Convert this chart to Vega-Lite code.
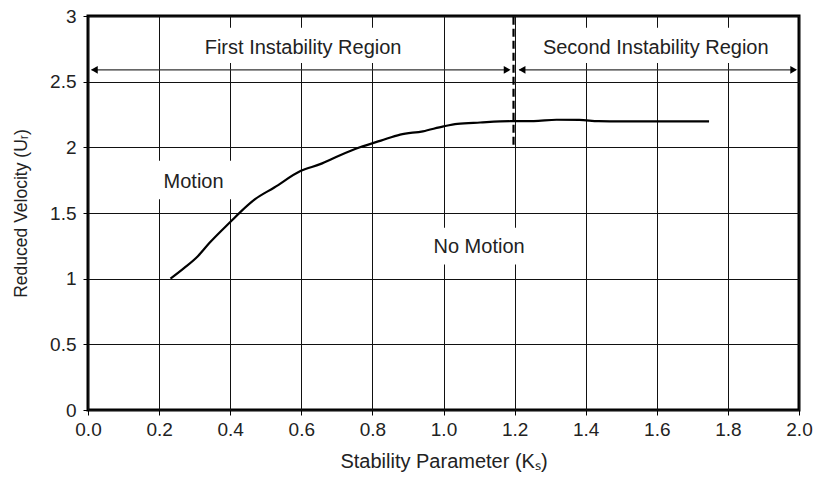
{
  "$schema": "https://vega.github.io/schema/vega-lite/v6.json",
  "width": 711,
  "height": 394,
  "autosize": {"type": "none"},
  "padding": {"left": 88, "top": 16, "right": 18, "bottom": 72},
  "background": "white",
  "config": {
    "font": "Liberation Sans",
    "view": {"stroke": "black", "strokeWidth": 3},
    "axis": {
      "grid": true,
      "gridColor": "#111111",
      "gridWidth": 1,
      "gridOpacity": 1,
      "domain": false,
      "tickColor": "black",
      "tickSize": 5,
      "tickWidth": 1,
      "labelFont": "Liberation Sans",
      "labelFontSize": 19,
      "labelColor": "#222222",
      "titleFont": "Liberation Sans",
      "titleFontWeight": "normal",
      "titleColor": "#222222"
    }
  },
  "encoding": {
    "x": {
      "field": "x",
      "type": "quantitative",
      "scale": {"domain": [0, 2], "nice": false, "zero": false},
      "axis": {
        "values": [0, 0.2, 0.4, 0.6, 0.8, 1.0, 1.2, 1.4, 1.6, 1.8, 2.0],
        "format": ".1f",
        "title": "Stability Parameter (Kₛ)",
        "titleFontSize": 20,
        "labelPadding": 5,
        "titlePadding": 12,
        "labelFlush": false
      }
    },
    "y": {
      "field": "y",
      "type": "quantitative",
      "scale": {"domain": [0, 3], "nice": false, "zero": false},
      "axis": {
        "values": [0, 0.5, 1, 1.5, 2, 2.5, 3],
        "format": "~g",
        "title": "Reduced Velocity (Uᵣ)",
        "titleFontSize": 17.5,
        "labelPadding": 7,
        "titlePadding": 19,
        "labelFlush": false
      }
    }
  },
  "layer": [
    {
      "data": {"values": [
        {"x": 0.32, "x2": 0.9, "y": 2.643, "y2": 2.91},
        {"x": 1.26, "x2": 1.94, "y": 2.643, "y2": 2.91},
        {"x": 0.195, "x2": 0.405, "y": 1.605, "y2": 1.898},
        {"x": 0.96, "x2": 1.24, "y": 1.107, "y2": 1.388}
      ]},
      "mark": {"type": "rect", "fill": "white", "stroke": null},
      "encoding": {"x2": {"field": "x2"}, "y2": {"field": "y2"}}
    },
    {
      "data": {"values": [
        {"x": 0.232, "y": 1.0},
        {"x": 0.27, "y": 1.08},
        {"x": 0.309, "y": 1.171},
        {"x": 0.342, "y": 1.273},
        {"x": 0.403, "y": 1.439},
        {"x": 0.427, "y": 1.503},
        {"x": 0.47, "y": 1.605},
        {"x": 0.524, "y": 1.694},
        {"x": 0.599, "y": 1.821},
        {"x": 0.653, "y": 1.872},
        {"x": 0.706, "y": 1.936},
        {"x": 0.765, "y": 2.0},
        {"x": 0.824, "y": 2.051},
        {"x": 0.878, "y": 2.097},
        {"x": 0.942, "y": 2.122},
        {"x": 1.0, "y": 2.16},
        {"x": 1.039, "y": 2.179},
        {"x": 1.103, "y": 2.189},
        {"x": 1.189, "y": 2.199},
        {"x": 1.254, "y": 2.2},
        {"x": 1.318, "y": 2.21},
        {"x": 1.382, "y": 2.209},
        {"x": 1.436, "y": 2.199},
        {"x": 1.5, "y": 2.197},
        {"x": 1.747, "y": 2.197}
      ]},
      "mark": {"type": "line", "color": "black", "strokeWidth": 2.2, "interpolate": "monotone"},
      "encoding": {}
    },
    {
      "data": {"values": [{"x": 1.197, "y": 2.02, "y2": 3.0}]},
      "mark": {"type": "rule", "color": "black", "strokeWidth": 2.2, "strokeDash": [8, 4]},
      "encoding": {"y2": {"field": "y2"}}
    },
    {
      "data": {"values": [
        {"x": 0.01, "x2": 1.185, "y": 2.59},
        {"x": 1.213, "x2": 1.99, "y": 2.59}
      ]},
      "mark": {"type": "rule", "color": "#333333", "strokeWidth": 1.2},
      "encoding": {"x2": {"field": "x2"}}
    },
    {
      "data": {"values": [
        {"x": 0.018, "y": 2.59, "dir": "left"},
        {"x": 1.179, "y": 2.59, "dir": "right"},
        {"x": 1.221, "y": 2.59, "dir": "left"},
        {"x": 1.985, "y": 2.59, "dir": "right"}
      ]},
      "mark": {"type": "point", "filled": true, "color": "black", "size": 60, "opacity": 1},
      "encoding": {
        "shape": {
          "field": "dir",
          "type": "nominal",
          "scale": {"domain": ["left", "right"], "range": ["triangle-left", "triangle-right"]},
          "legend": null
        }
      }
    },
    {
      "data": {"values": [
        {"x": 0.605, "y": 2.757, "label": "First Instability Region"},
        {"x": 1.597, "y": 2.757, "label": "Second Instability Region"},
        {"x": 0.297, "y": 1.737, "label": "Motion"},
        {"x": 1.1, "y": 1.24, "label": "No Motion"}
      ]},
      "mark": {"type": "text", "font": "Liberation Sans", "fontSize": 20, "color": "#222222", "align": "center", "baseline": "middle"},
      "encoding": {"text": {"field": "label"}}
    }
  ]
}
